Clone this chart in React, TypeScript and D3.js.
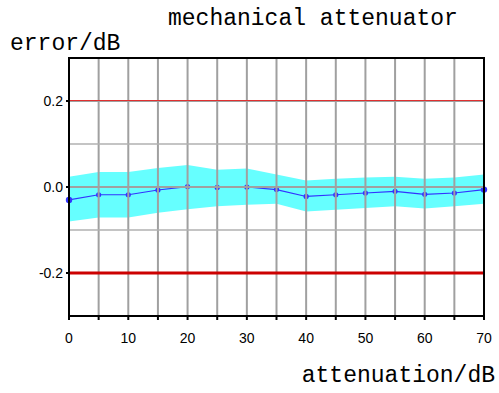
import React from "react";
import * as d3 from "d3";

const attenuation = [0, 5, 10, 15, 20, 25, 30, 35, 40, 45, 50, 55, 60, 65, 70];
const errorDb = [-0.030, -0.018, -0.018, -0.007, 0.001, -0.001, 0.0, -0.006, -0.022, -0.018, -0.014, -0.010, -0.017, -0.014, -0.006];
const upperBand = [0.024, 0.035, 0.035, 0.044, 0.051, 0.040, 0.043, 0.029, 0.015, 0.019, 0.022, 0.024, 0.019, 0.022, 0.029];
const lowerBand = [-0.080, -0.071, -0.071, -0.060, -0.052, -0.045, -0.041, -0.039, -0.057, -0.053, -0.049, -0.045, -0.050, -0.045, -0.039];
const xTicks = [0, 10, 20, 30, 40, 50, 60, 70];
const xGrid = [0, 5, 10, 15, 20, 25, 30, 35, 40, 45, 50, 55, 60, 65, 70];
const yTicks = [0.2, 0.0, -0.2];
const yMinorGrid = [0.1, -0.1];
const limits = [0.2, -0.2];

const W = 499, H = 393;
const L = 69, R = 484, T = 58, B = 316;

export default function App() {
  const x = d3.scaleLinear().domain([0, 70]).range([L, R]);
  const y = d3.scaleLinear().domain([-0.3, 0.3]).range([B, T]);
  const area = d3.area<number>()
    .x((_, i) => x(attenuation[i]))
    .y0((_, i) => y(lowerBand[i]))
    .y1((_, i) => y(upperBand[i]));
  const line = d3.line<number>()
    .x((_, i) => x(attenuation[i]))
    .y((d) => y(d));
  const mono = "'Liberation Mono', 'DejaVu Sans Mono', monospace";
  const sans = "'Liberation Sans', Arial, sans-serif";
  return (
    <svg width={W} height={H} style={{ position: "absolute", left: 0, top: 0 }}>
      <rect x={0} y={0} width={W} height={H} fill="#fff" />
      <path d={area(errorDb) || ""} fill="#66ffff" />
      <path d={line(errorDb) || ""} fill="none" stroke="#3333ff" strokeWidth={1.2} />
      {errorDb.map((d, i) => (
        <circle key={i} cx={x(attenuation[i])} cy={y(d)} r={i === 0 || i === errorDb.length - 1 ? 3.2 : 2.6} fill="#3333ff" />
      ))}
      {xGrid.slice(1, -1).map((v) => (
        <line key={"gx" + v} x1={x(v)} x2={x(v)} y1={T} y2={B} stroke="#a0a0a0" strokeWidth={2} />
      ))}
      {yMinorGrid.map((v) => (
        <line key={"gy" + v} x1={L} x2={R} y1={y(v)} y2={y(v)} stroke="#b0b0b0" strokeWidth={1.5} />
      ))}
      <line x1={L} x2={R} y1={y(0)} y2={y(0)} stroke="#a0a0a0" strokeWidth={2} />
      <line x1={L} x2={R} y1={y(limits[0])} y2={y(limits[0])} stroke="#a0a0a0" strokeWidth={2} />
      <line x1={L} x2={R} y1={y(limits[0]) - 0.5} y2={y(limits[0]) - 0.5} stroke="#e03030" strokeWidth={1.2} />
      <line x1={L} x2={R} y1={y(limits[1])} y2={y(limits[1])} stroke="#cc0000" strokeWidth={3} />
      <rect x={L} y={T} width={R - L} height={B - T} fill="none" stroke="#000" strokeWidth={2} />
      {yTicks.map((v) => (
        <g key={"yt" + v}>
          <line x1={L - 3} x2={L} y1={y(v)} y2={y(v)} stroke="#000" strokeWidth={2} />
          <text x={L - 6} y={y(v)} dy="0.35em" textAnchor="end" fontFamily={sans} fontSize={14}>{v.toFixed(1)}</text>
        </g>
      ))}
      {xGrid.map((v) => (
        <line key={"xt" + v} x1={x(v)} x2={x(v)} y1={B} y2={B + 4} stroke="#000" strokeWidth={2} />
      ))}
      {xTicks.map((v) => (
        <text key={"xl" + v} x={x(v)} y={343} textAnchor="middle" fontFamily={sans} fontSize={14}>{v}</text>
      ))}
      <text x={168} y={25} fontFamily={mono} fontSize={23}>mechanical attenuator</text>
      <text x={10} y={50} fontFamily={mono} fontSize={23}>error/dB</text>
      <text x={495} y={382} textAnchor="end" fontFamily={mono} fontSize={23}>attenuation/dB</text>
    </svg>
  );
}
